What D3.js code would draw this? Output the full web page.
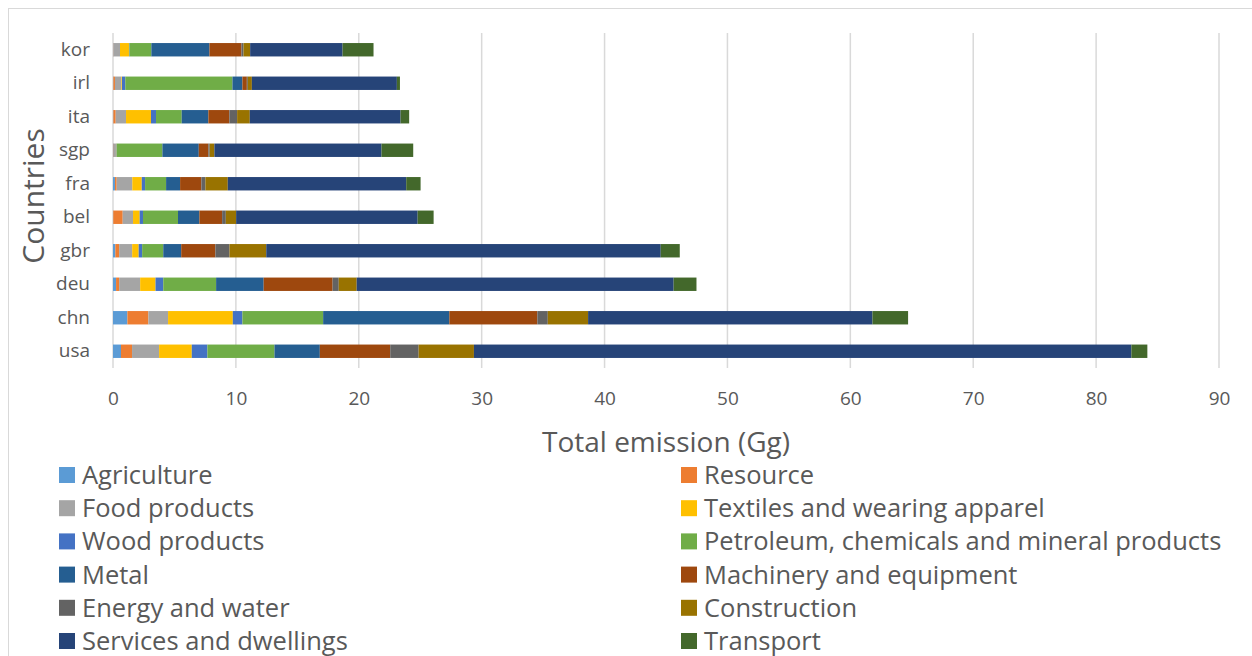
<!DOCTYPE html>
<html>
<head>
<meta charset="utf-8">
<script src="https://cdn.jsdelivr.net/npm/d3@7"></script>
<style>
  body { margin: 0; background: #fff; }
  text { font-family: "Open Sans", sans-serif; fill: #595959; }
</style>
</head>
<body>
<svg id="chart" width="1252" height="656"></svg>
<script>
var countries = ["usa", "chn", "deu", "gbr", "bel", "fra", "sgp", "ita", "irl", "kor"];
var sectors = ["Agriculture", "Resource", "Food products", "Textiles and wearing apparel",
  "Wood products", "Petroleum, chemicals and mineral products", "Metal",
  "Machinery and equipment", "Energy and water", "Construction",
  "Services and dwellings", "Transport"];
var colors = ["#5b9bd5", "#ed7d31", "#a5a5a5", "#ffc000", "#4472c4", "#70ad47",
  "#255e91", "#9e480e", "#636363", "#997300", "#264478", "#43682b"];

// values per sector, same order as countries
var agriculture  = [0.65, 1.17, 0.25, 0.19, 0.02, 0.16, 0.05, 0.03, 0.03, 0.02];
var resource     = [0.9, 1.71, 0.25, 0.31, 0.77, 0.14, 0.03, 0.19, 0.13, 0.02];
var food         = [2.2, 1.6, 1.71, 1.06, 0.84, 1.27, 0.16, 0.84, 0.52, 0.53];
var textiles     = [2.66, 5.27, 1.25, 0.53, 0.54, 0.77, 0.03, 2.03, 0.05, 0.73];
var wood         = [1.27, 0.78, 0.63, 0.28, 0.27, 0.27, 0.03, 0.41, 0.27, 0.04];
var petroleum    = [5.46, 6.57, 4.3, 1.72, 2.85, 1.71, 3.72, 2.09, 8.72, 1.78];
var metal        = [3.69, 10.27, 3.87, 1.46, 1.74, 1.14, 2.96, 2.17, 0.81, 4.73];
var machinery    = [5.73, 7.16, 5.61, 2.78, 1.85, 1.73, 0.78, 1.71, 0.36, 2.6];
var energy       = [2.31, 0.85, 0.5, 1.15, 0.3, 0.33, 0.11, 0.63, 0.08, 0.17];
var construction = [4.5, 3.28, 1.46, 2.99, 0.84, 1.82, 0.38, 1.03, 0.33, 0.54];
var services     = [53.5, 23.14, 25.79, 32.1, 14.77, 14.52, 13.6, 12.27, 11.8, 7.52];
var transport    = [1.3, 2.9, 1.86, 1.55, 1.3, 1.17, 2.58, 0.7, 0.25, 2.52];

var xTicks = [0, 10, 20, 30, 40, 50, 60, 70, 80, 90];

var series = [agriculture, resource, food, textiles, wood, petroleum, metal,
  machinery, energy, construction, services, transport];

// build rows for d3.stack
var rows = countries.map(function(c, i) {
  var r = {country: c};
  sectors.forEach(function(s, j) { r[s] = series[j][i]; });
  return r;
});

var svg = d3.select("#chart");

// chart border
svg.append("rect")
  .attr("x", 8.5).attr("y", 8.5)
  .attr("width", 1260).attr("height", 660)
  .attr("fill", "none")
  .attr("stroke", "#d9d9d9")
  .attr("stroke-width", 1);

var plot = {left: 113, right: 1219, top: 33, bottom: 368};

var x = d3.scaleLinear()
  .domain([0, 90])
  .range([plot.left, plot.right]);

var y = d3.scaleBand()
  .domain(countries.slice().reverse())
  .range([plot.top, plot.bottom])
  .paddingInner(0.6)
  .paddingOuter(0.3);

// gridlines
svg.append("g")
  .selectAll("line")
  .data(xTicks)
  .enter().append("line")
  .attr("x1", function(d) { return x(d); })
  .attr("x2", function(d) { return x(d); })
  .attr("y1", plot.top)
  .attr("y2", plot.bottom)
  .attr("stroke", "#d9d9d9")
  .attr("stroke-width", 1.5);

var stack = d3.stack().keys(sectors);
var layers = stack(rows);

svg.append("g")
  .selectAll("g")
  .data(layers)
  .enter().append("g")
  .attr("fill", function(d, i) { return colors[i]; })
  .selectAll("rect")
  .data(function(d) { return d; })
  .enter().append("rect")
  .attr("x", function(d) { return x(d[0]); })
  .attr("width", function(d) { return x(d[1]) - x(d[0]); })
  .attr("y", function(d) { return y(d.data.country); })
  .attr("height", y.bandwidth());

// x axis labels
var xAxis = d3.axisBottom(x).tickValues(xTicks).tickSize(0).tickPadding(24);
var gx = svg.append("g")
  .attr("transform", "translate(0," + plot.bottom + ")")
  .call(xAxis);
gx.select(".domain").remove();
gx.selectAll("text")
  .style("font-size", "19px")
  .style("fill", "#595959")
  .style("font-family", "'Open Sans', sans-serif");

// y axis labels
var yAxis = d3.axisLeft(y).tickSize(0).tickPadding(23);
var gy = svg.append("g")
  .attr("transform", "translate(" + plot.left + ",0)")
  .call(yAxis);
gy.select(".domain").remove();
gy.selectAll("text")
  .style("font-size", "19px")
  .style("fill", "#595959")
  .style("font-family", "'Open Sans', sans-serif");

// axis titles
svg.append("text")
  .attr("x", (plot.left + plot.right) / 2)
  .attr("y", 452)
  .attr("text-anchor", "middle")
  .style("font-size", "28px")
  .text("Total emission (Gg)");

svg.append("text")
  .attr("transform", "translate(44,196) rotate(-90)")
  .attr("text-anchor", "middle")
  .style("font-size", "30px")
  .text("Countries");

// legend, two columns
var legend = svg.append("g");
var item = legend.selectAll("g")
  .data(sectors)
  .enter().append("g")
  .attr("transform", function(d, i) {
    var col = i % 2, row = Math.floor(i / 2);
    return "translate(" + (col ? 681 : 59) + "," + (475 + row * 33.2) + ")";
  });
item.append("rect")
  .attr("x", 0).attr("y", -8)
  .attr("width", 16).attr("height", 16)
  .attr("fill", function(d, i) { return colors[i]; });
item.append("text")
  .attr("x", 23)
  .attr("y", 0)
  .attr("dy", "0.35em")
  .style("font-size", "25.5px")
  .text(function(d) { return d; });
</script>
</body>
</html>
